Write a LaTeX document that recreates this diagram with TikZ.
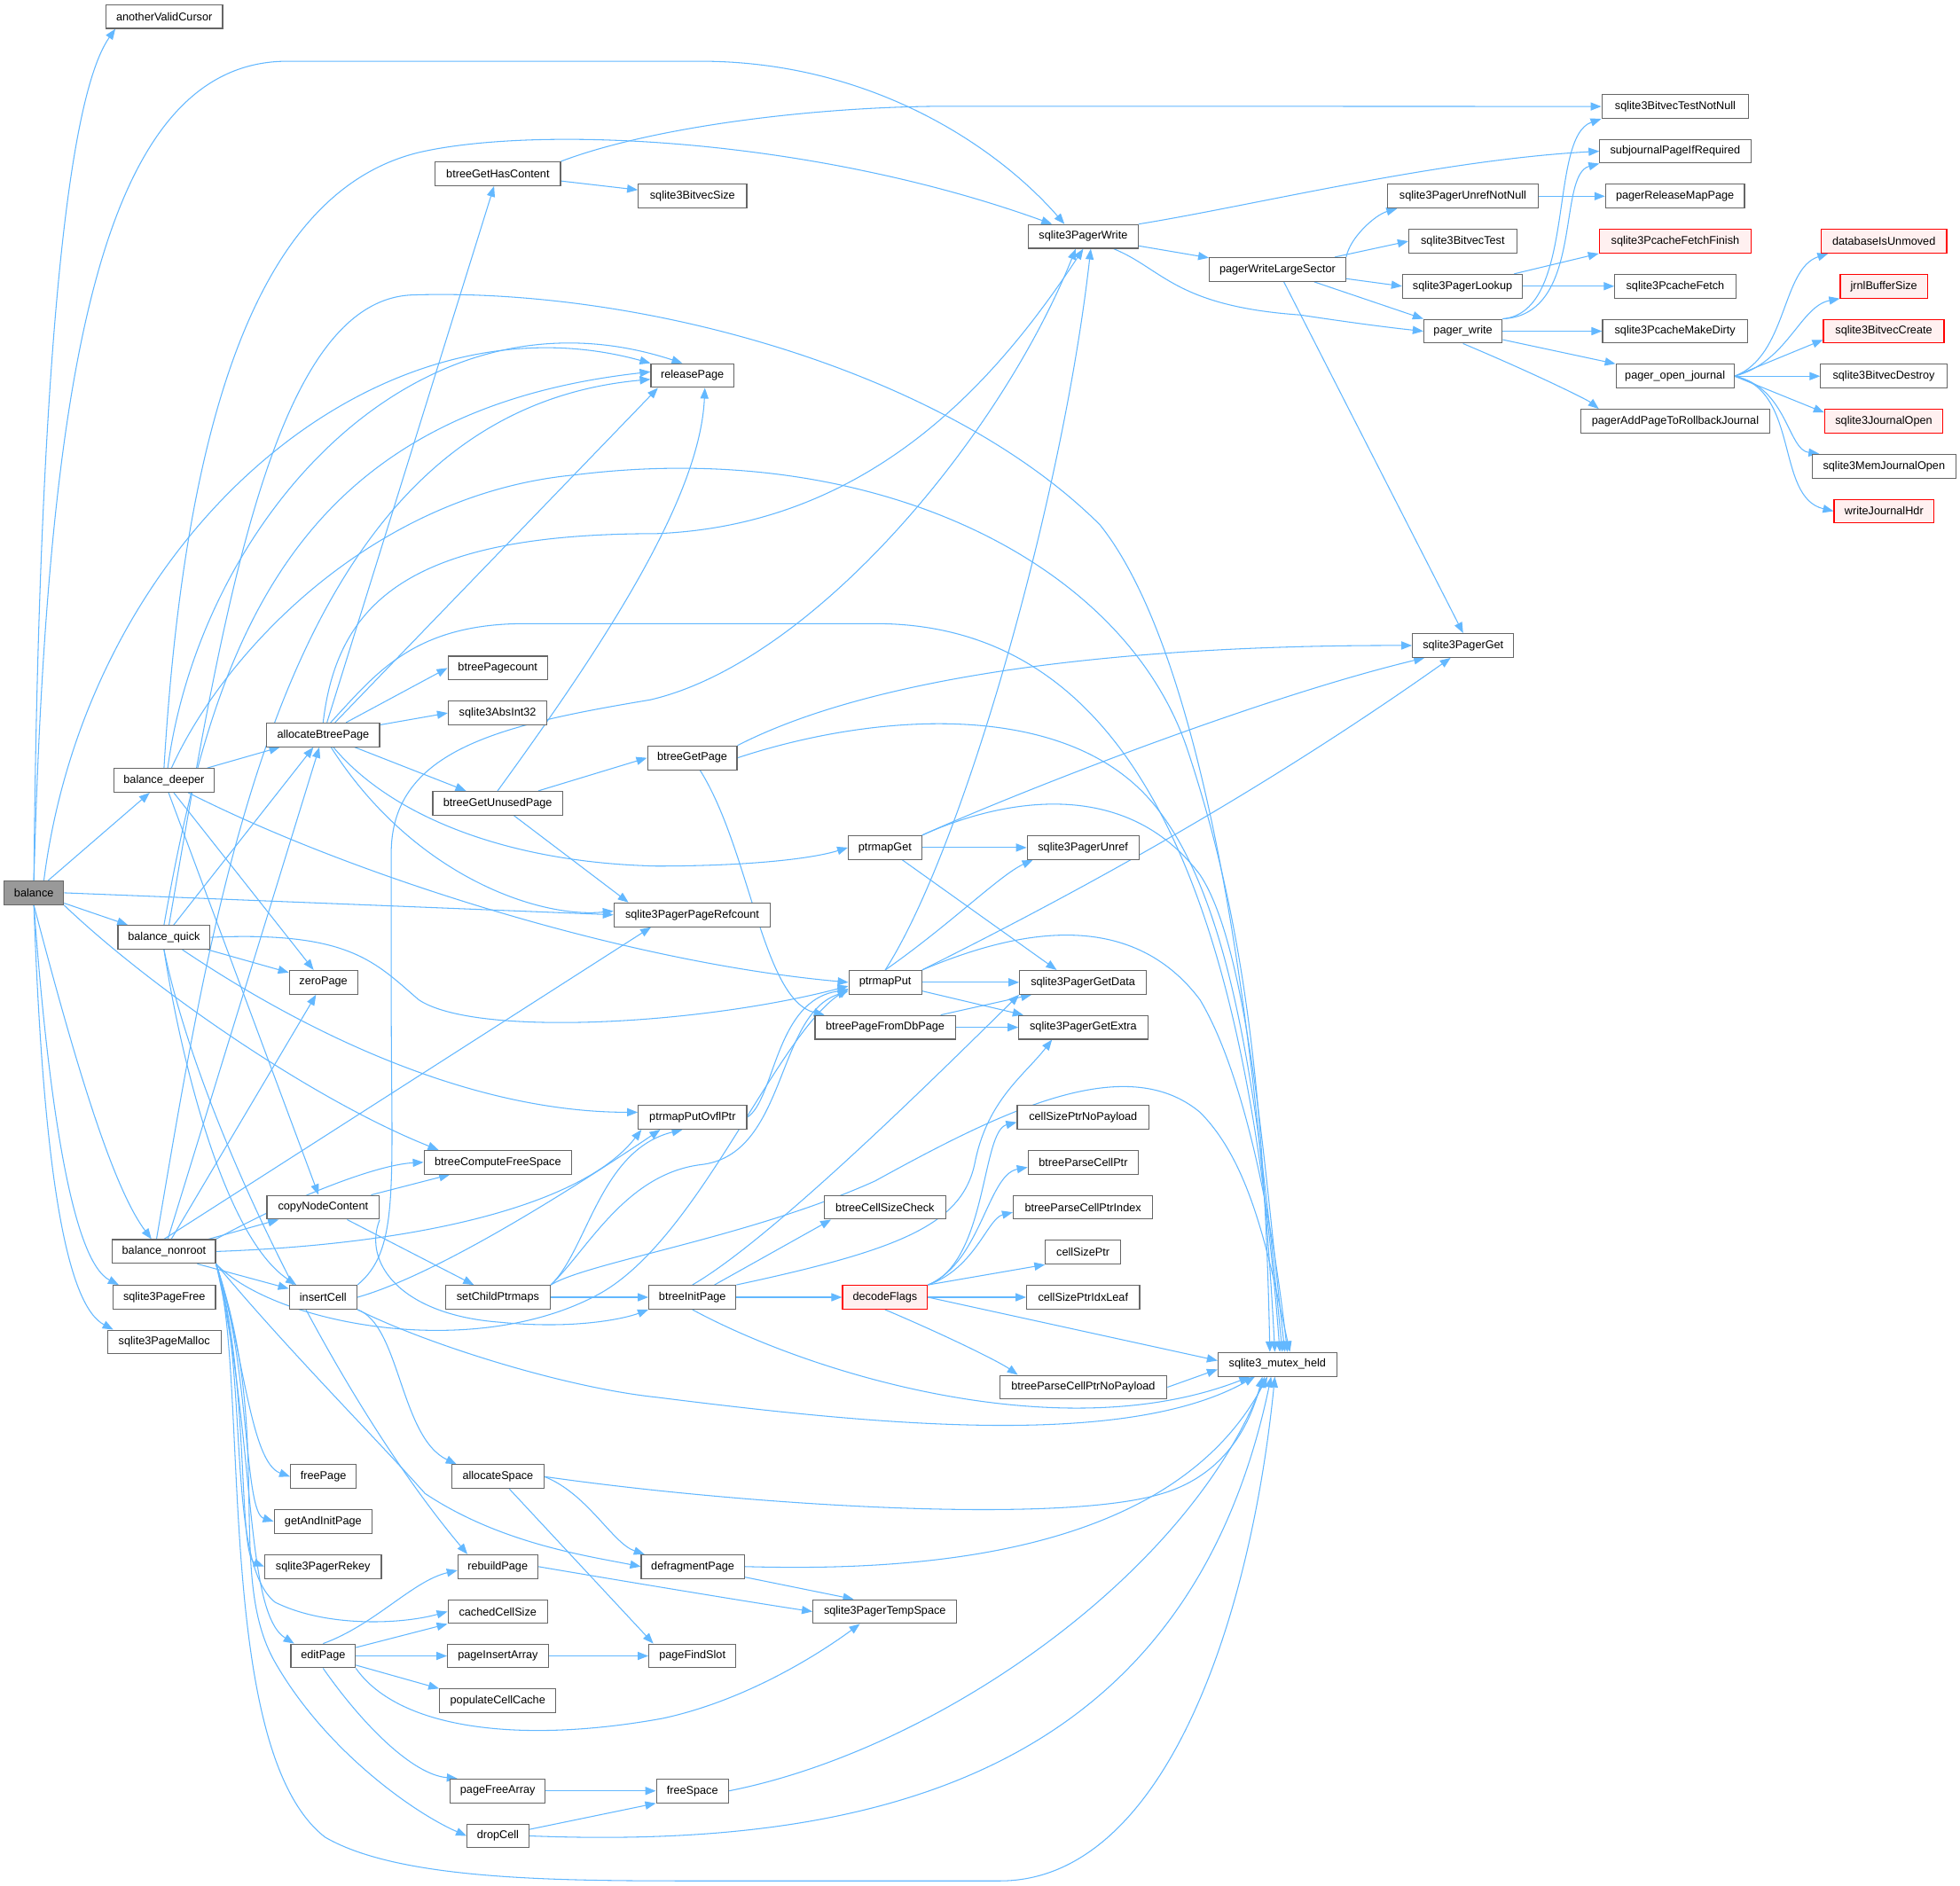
\documentclass[tikz,border=0pt]{standalone}
\usepackage{fontspec}
\setmainfont{Liberation Sans}
\usetikzlibrary{arrows.meta}
\pgfdeclarelayer{edgelayer}
\pgfsetlayers{edgelayer,main}
\definecolor{edgeblue}{HTML}{63B8FF}
\definecolor{boxgray}{HTML}{666666}
\definecolor{rootfill}{HTML}{999999}
\definecolor{truncfill}{HTML}{FFF0F0}
\definecolor{truncred}{HTML}{FF0000}
\tikzset{
 fn/.style={draw=boxgray, fill=white, line width=0.8pt, minimum height=19pt, inner sep=0pt, font=\fontsize{9}{10}\selectfont},
 trunc/.style={fn, draw=truncred, fill=truncfill},
 rootfn/.style={fn, fill=rootfill},
 call/.style={draw=edgeblue, line width=0.75pt, -{Triangle[length=8.5pt,width=6.5pt]}},
}
\begin{document}
\begin{tikzpicture}[x=1pt,y=1pt]
\useasboundingbox (0,0) rectangle (1568,-1509);
% column 1-2
\node[rootfn, minimum width=47.6pt] (B) at (27.1,-714.4) {balance};
\node[fn, minimum width=93.4pt] (aVC) at (131.4,-13.2) {anotherValidCursor};
\node[fn, minimum width=80.3pt] (bD) at (131.2,-624.4) {balance\_deeper};
\node[fn, minimum width=73.7pt] (bQ) at (131.2,-750) {balance\_quick};
\node[fn, minimum width=82.4pt] (bN) at (131.2,-1001.4) {balance\_nonroot};
\node[fn, minimum width=82pt] (sPF) at (131.4,-1038) {sqlite3PageFree};
\node[fn, minimum width=90.8pt] (sPM) at (131.4,-1073.8) {sqlite3PageMalloc};
% column 3
\node[fn, minimum width=90.4pt] (aBP) at (258.5,-588) {allocateBtreePage};
\node[fn, minimum width=54.6pt] (zP) at (258.7,-786) {zeroPage};
\node[fn, minimum width=89.8pt] (cNC) at (258.5,-966) {copyNodeContent};
\node[fn, minimum width=54.2pt] (iC) at (258.5,-1038) {insertCell};
\node[fn, minimum width=52.6pt] (fP) at (258.7,-1181.5) {freePage};
\node[fn, minimum width=78.4pt] (gAIP) at (258.5,-1217.4) {getAndInitPage};
\node[fn, minimum width=93.3pt] (sPRk) at (258.4,-1253.5) {sqlite3PagerRekey};
\node[fn, minimum width=51.6pt] (eP) at (258.5,-1325) {editPage};
% column 4
\node[fn, minimum width=100.2pt] (bGHC) at (398.3,-139) {btreeGetHasContent};
\node[fn, minimum width=79.7pt] (bPc) at (398.2,-534.5) {btreePagecount};
\node[fn, minimum width=79pt] (sAI) at (398.1,-570.5) {sqlite3AbsInt32};
\node[fn, minimum width=103.8pt] (bGUP) at (398.1,-642.7) {btreeGetUnusedPage};
\node[fn, minimum width=118.2pt] (bCFS) at (398.3,-930) {btreeComputeFreeSpace};
\node[fn, minimum width=84pt] (sCP) at (398.3,-1038) {setChildPtrmaps};
\node[fn, minimum width=73.4pt] (aS) at (398.3,-1181.5) {allocateSpace};
\node[fn, minimum width=63.7pt] (rbP) at (398.2,-1253.5) {rebuildPage};
\node[fn, minimum width=79.7pt] (cCS) at (398.2,-1289.5) {cachedCellSize};
\node[fn, minimum width=80.6pt] (pIA) at (398.3,-1325) {pageInsertArray};
\node[fn, minimum width=93.1pt] (pCC) at (398.2,-1361) {populateCellCache};
\node[fn, minimum width=75.7pt] (pFA) at (398.2,-1433) {pageFreeArray};
\node[fn, minimum width=49.3pt] (dC) at (398.3,-1469) {dropCell};
% column 5
\node[fn, minimum width=66.3pt] (RP) at (553.9,-300.5) {releasePage};
\node[fn, minimum width=86.8pt] (sBS) at (554,-157) {sqlite3BitvecSize};
\node[fn, minimum width=71.6pt] (bGP) at (553.8,-606.4) {btreeGetPage};
\node[fn, minimum width=125.2pt] (sPPR) at (553.8,-732) {sqlite3PagerPageRefcount};
\node[fn, minimum width=86.8pt] (pPO) at (554,-894) {ptrmapPutOvflPtr};
\node[fn, minimum width=69.7pt] (bIP) at (553.9,-1038) {btreeInitPage};
\node[fn, minimum width=82.4pt] (dP) at (554.2,-1253.5) {defragmentPage};
\node[fn, minimum width=69.7pt] (pFS) at (553.9,-1325) {pageFindSlot};
\node[fn, minimum width=57.6pt] (fS) at (553.9,-1433) {freeSpace};
% column 6
\node[fn, minimum width=58.6pt] (pG) at (708,-678.2) {ptrmapGet};
\node[fn, minimum width=58.3pt] (pP) at (708.2,-786) {ptrmapPut};
\node[fn, minimum width=112.2pt] (bPFDP) at (708.1,-822) {btreePageFromDbPage};
\node[fn, minimum width=97.5pt] (bCSC) at (708,-966) {btreeCellSizeCheck};
\node[trunc, minimum width=68pt] (dF) at (708,-1038) {decodeFlags};
\node[fn, minimum width=115.1pt] (sPTS) at (707.9,-1289.5) {sqlite3PagerTempSpace};
% column 7
\node[fn, minimum width=87.8pt] (PW) at (866.6,-189.2) {sqlite3PagerWrite};
\node[fn, minimum width=89.4pt] (sPU) at (866.4,-678.2) {sqlite3PagerUnref};
\node[fn, minimum width=101.4pt] (sPGD) at (866.4,-786) {sqlite3PagerGetData};
\node[fn, minimum width=103.1pt] (sPGE) at (866.6,-822) {sqlite3PagerGetExtra};
\node[fn, minimum width=105.5pt] (cSPNP) at (866.5,-894) {cellSizePtrNoPayload};
\node[fn, minimum width=88.3pt] (bPCP) at (866.6,-930) {btreeParseCellPtr};
\node[fn, minimum width=111.6pt] (bPCPI) at (866.4,-966) {btreeParseCellPtrIndex};
\node[fn, minimum width=60pt] (cSP) at (866.4,-1002) {cellSizePtr};
\node[fn, minimum width=90.4pt] (cSPIL) at (866.5,-1038) {cellSizePtrIdxLeaf};
\node[fn, minimum width=133.9pt] (bPCPNP) at (866.6,-1110) {btreeParseCellPtrNoPayload};
% column 8
\node[fn, minimum width=109.1pt] (pWLS) at (1022,-215.6) {pagerWriteLargeSector};
\node[fn, minimum width=94.9pt] (mx) at (1021.9,-1091.7) {sqlite3\_mutex\_held};
% column 9
\node[fn, minimum width=120.5pt] (sPUNN) at (1170.3,-157) {sqlite3PagerUnrefNotNull};
\node[fn, minimum width=86.4pt] (sBT) at (1170.2,-193) {sqlite3BitvecTest};
\node[fn, minimum width=96pt] (sPL) at (1170,-229) {sqlite3PagerLookup};
\node[fn, minimum width=62.7pt] (pW) at (1170.4,-265) {pager\_write};
\node[fn, minimum width=81pt] (sPG) at (1170.5,-516.5) {sqlite3PagerGet};
% column 10
\node[fn, minimum width=117.6pt] (sBTNN) at (1340.2,-85.2) {sqlite3BitvecTestNotNull};
\node[fn, minimum width=120.8pt] (sJPIR) at (1340.2,-121) {subjournalPageIfRequired};
\node[fn, minimum width=111.2pt] (pRMP) at (1340,-157) {pagerReleaseMapPage};
\node[trunc, minimum width=121.6pt] (sPFF) at (1340.2,-193) {sqlite3PcacheFetchFinish};
\node[fn, minimum width=96.7pt] (sPCF) at (1340.2,-229) {sqlite3PcacheFetch};
\node[fn, minimum width=115.9pt] (sPMD) at (1340,-265) {sqlite3PcacheMakeDirty};
\node[fn, minimum width=94.4pt] (pOJ) at (1340,-301) {pager\_open\_journal};
\node[fn, minimum width=151.6pt] (pAPRJ) at (1340.2,-337) {pagerAddPageToRollbackJournal};
% column 11
\node[trunc, minimum width=100.4pt] (dIU) at (1507.1,-193) {databaseIsUnmoved};
\node[trunc, minimum width=69.8pt] (jBS) at (1507.1,-229) {jrnlBufferSize};
\node[trunc, minimum width=96.5pt] (sBC) at (1507,-265) {sqlite3BitvecCreate};
\node[fn, minimum width=101.1pt] (sBD) at (1507,-301) {sqlite3BitvecDestroy};
\node[trunc, minimum width=94.5pt] (sJO) at (1507,-337) {sqlite3JournalOpen};
\node[fn, minimum width=114.9pt] (sMJO) at (1507.2,-373) {sqlite3MemJournalOpen};
\node[trunc, minimum width=79.9pt] (wJH) at (1507.2,-409) {writeJournalHdr};

\begin{pgfonlayer}{edgelayer}
\fill[white] (0,0) rectangle (1568,-1509);
% ---- balance
\draw[call] (B.north) .. controls (30,-400) and (45,-90) .. ([xshift=8pt]aVC.south west);
\draw[call] (B.north) .. controls (38,-300) and (80,-49) .. (230,-49) -- (560,-49) .. controls (700,-49) and (800,-120) .. ([xshift=-15pt]PW.north);
\draw[call] ([xshift=8pt]B.north) .. controls (70,-430) and (300,-230) .. (RP.north west);
\draw[call] (B) -- (bD);
\draw[call] (B.east) -- (sPPR.west);
\draw[call] (B) -- (bQ);
\draw[call] (B.south east) .. controls (120,-790) and (250,-880) .. ([xshift=12pt]bCFS.north west);
\draw[call] (B.south) .. controls (60,-850) and (90,-950) .. ([xshift=-10pt]bN.north);
\draw[call] (B.south) .. controls (40,-900) and (60,-1010) .. ([xshift=5pt]sPF.north west);
\draw[call] (B.south) .. controls (35,-950) and (55,-1045) .. ([xshift=5pt]sPM.north west);
% ---- balance_deeper
\draw[call] (bD.north) .. controls (150,-300) and (220,-150) .. (335,-122) .. controls (430,-100) and (650,-110) .. ([xshift=-25pt]PW.north);
\draw[call] ([xshift=3pt]bD.north) .. controls (160,-420) and (330,-220) .. ([xshift=-8pt]RP.north);
\draw[call] ([xshift=6pt]bD.north) .. controls (180,-520) and (300,-395) .. (460,-380) .. controls (700,-350) and (900,-450) .. (950,-600) .. controls (1000,-750) and (1012,-900) .. ([xshift=-6pt]mx.north);
\draw[call] (bD) -- (aBP);
\draw[call] (bD) -- (zP);
\draw[call] (bD) -- (cNC);
\draw[call] (bD) .. controls (280,-700) and (500,-770) .. (pP.west);
% ---- balance_quick
\draw[call] (bQ) -- (aBP);
\draw[call] (bQ) -- (zP);
\draw[call] (bQ.east) .. controls (280,-745) and (300,-770) .. (335,-800) .. controls (380,-830) and (560,-820) .. ([yshift=-3pt]pP.west);
\draw[call] (bQ) .. controls (250,-830) and (380,-890) .. ([yshift=4pt]pPO.west);
\draw[call] (bQ.south) .. controls (145,-850) and (180,-990) .. ([xshift=6pt]iC.north west);
\draw[call] (bQ.south) .. controls (160,-900) and (270,-1120) .. ([xshift=8pt]rbP.north west);
\draw[call] (bQ.north) .. controls (170,-520) and (230,-330) .. ([yshift=3pt]RP.west);
\draw[call] ([xshift=4pt]bQ.north) .. controls (180,-480) and (220,-240) .. (330,-236) .. controls (520,-230) and (760,-300) .. (880,-420) .. controls (960,-520) and (1005,-800) .. ([xshift=-2pt]mx.north);
% ---- balance_nonroot
\draw[call] (bN) -- (aBP);
\draw[call] (bN) -- (zP);
\draw[call] (bN) -- (cNC);
\draw[call] ([xshift=-15pt]bN.south east) -- ([yshift=-3pt]iC.north west);
\draw[call] (bN.north east) .. controls (230,-960) and (300,-932) .. (bCFS.west);
\draw[call] (bN.east) .. controls (350,-995) and (470,-960) .. ([xshift=3pt]pPO.south west);
\draw[call] (bN.north) -- ([xshift=30pt]sPPR.south west);
\draw[call] ([xshift=-6pt]bN.north) .. controls (175,-700) and (230,-330) .. ([yshift=-3pt]RP.west);
\draw[call] (bN.south east) .. controls (220,-1060) and (380,-1090) .. (480,-1035) .. controls (560,-990) and (620,-830) .. ([yshift=-5pt]pP.west);
\draw[call] (bN.south east) .. controls (230,-1080) and (300,-1150) .. (340,-1195) .. controls (400,-1235) and (470,-1245) .. (dP.west);
\draw[call] (bN.south east) .. controls (195,-1080) and (200,-1170) .. (fP.west);
\draw[call] (bN.south east) .. controls (200,-1090) and (195,-1210) .. (gAIP.west);
\draw[call] (bN.south east) .. controls (200,-1100) and (190,-1245) .. (sPRk.west);
\draw[call] (bN.south east) .. controls (200,-1100) and (180,-1250) .. (220,-1282) .. controls (260,-1302) and (320,-1300) .. (cCS.west);
\draw[call] (bN.south east) .. controls (205,-1150) and (195,-1290) .. ([xshift=3pt]eP.north west);
\draw[call] (bN.south east) .. controls (220,-1150) and (180,-1260) .. (220,-1330) .. controls (260,-1400) and (330,-1450) .. (dC.west);
\draw[call] (bN.south east) .. controls (200,-1100) and (170,-1400) .. (260,-1470) .. controls (320,-1505) and (450,-1505) .. (560,-1505) -- (800,-1505) .. controls (930,-1505) and (1000,-1300) .. ([xshift=-2pt]mx.south);
% ---- allocateBtreePage
\draw[call] (aBP) -- (bGHC);
\draw[call] (aBP.north) .. controls (270,-480) and (330,-427) .. (525,-427) .. controls (700,-420) and (800,-300) .. (PW.south);
\draw[call] (aBP) -- ([xshift=6pt]RP.south west);
\draw[call] (aBP) -- (bPc.west);
\draw[call] (aBP) -- (sAI.west);
\draw[call] (aBP) -- (bGUP);
\draw[call] (aBP) .. controls (330,-700) and (430,-735) .. ([yshift=3pt]sPPR.west);
\draw[call] (aBP) .. controls (310,-650) and (400,-690) .. (525,-693) .. controls (600,-693) and (650,-687) .. (pG.west);
\draw[call] ([xshift=6pt]aBP.north) .. controls (300,-540) and (330,-499) .. (420,-499) -- (700,-499) .. controls (900,-499) and (995,-700) .. ([xshift=2pt]mx.north);
% ---- btreeGetUnusedPage, btreeGetHasContent
\draw[call] (bGUP) -- (bGP.west);
\draw[call] (bGUP) -- ([xshift=12pt]sPPR.north west);
\draw[call] (bGUP.north) .. controls (480,-520) and (560,-400) .. ([xshift=10pt]RP.south);
\draw[call] (bGHC) -- (sBS);
\draw[call] (bGHC.north east) .. controls (520,-102) and (650,-85) .. (760,-85) -- (sBTNN.west);
% ---- sqlite3PagerWrite and pager internals
\draw[call] (PW.north east) .. controls (1000,-165) and (1150,-128) .. (sJPIR.west);
\draw[call] (PW) -- (pWLS);
\draw[call] (PW) .. controls (930,-215) and (940,-245) .. (1040,-252) .. controls (1080,-258) and (1110,-262) .. (pW.west);
\draw[call] (pWLS.north east) .. controls (1080,-190) and (1100,-172) .. ([xshift=8pt]sPUNN.south west);
\draw[call] (pWLS) -- (sBT.west);
\draw[call] (pWLS) -- (sPL.west);
\draw[call] (pWLS) -- (pW.north west);
\draw[call] (pWLS) -- (sPG.north);
\draw[call] (sPUNN) -- (pRMP);
\draw[call] (sPL) -- (sPFF.south west);
\draw[call] (sPL) -- (sPCF);
\draw[call] (pW.north east) .. controls (1262,-250) and (1238,-110) .. (sBTNN.south west);
\draw[call] (pW.north east) .. controls (1268,-252) and (1245,-140) .. (sJPIR.south west);
\draw[call] (pW) -- (sPMD);
\draw[call] (pW) -- (pOJ.north west);
\draw[call] (pW.south) .. controls (1230,-300) and (1270,-320) .. ([xshift=15pt]pAPRJ.north west);
\draw[call] (pOJ.east) .. controls (1430,-285) and (1425,-215) .. ([xshift=6pt]dIU.south west);
\draw[call] (pOJ.east) .. controls (1430,-290) and (1440,-245) .. (jBS.south west);
\draw[call] (pOJ.east) -- ([yshift=3pt]sBC.south west);
\draw[call] (pOJ) -- (sBD);
\draw[call] (pOJ.east) -- ([yshift=-3pt]sJO.north west);
\draw[call] (pOJ.east) .. controls (1430,-310) and (1430,-360) .. ([xshift=6pt]sMJO.north west);
\draw[call] (pOJ.east) .. controls (1440,-312) and (1420,-398) .. (wJH.west);
% ---- btreeGetPage, ptrmapGet, ptrmapPut
\draw[call] (bGP.north east) .. controls (700,-540) and (900,-516) .. (sPG.west);
\draw[call] (bGP) .. controls (600,-680) and (610,-800) .. ([xshift=8pt]bPFDP.north west);
\draw[call] (bGP.east) .. controls (700,-570) and (850,-560) .. (920,-640) .. controls (990,-720) and (1008,-900) .. ([xshift=4pt]mx.north);
\draw[call] (pG.north east) .. controls (800,-640) and (1000,-560) .. ([xshift=10pt]sPG.south west);
\draw[call] (pG) -- (sPU);
\draw[call] (pG) -- ([xshift=30pt]sPGD.north west);
\draw[call] (pG.north east) .. controls (800,-640) and (900,-620) .. (960,-700) .. controls (1000,-760) and (1013,-950) .. ([xshift=6pt]mx.north);
\draw[call] (pP.north) .. controls (770,-680) and (850,-400) .. ([xshift=6pt]PW.south);
\draw[call] (pP.north) .. controls (760,-740) and (800,-700) .. ([xshift=5pt]sPU.south west);
\draw[call] (pP.north east) .. controls (850,-720) and (1000,-640) .. ([xshift=-10pt]sPG.south);
\draw[call] (pP) -- (sPGD);
\draw[call] (pP) -- ([xshift=4pt]sPGE.north west);
\draw[call] (pP.north east) .. controls (800,-750) and (900,-720) .. (960,-800) .. controls (990,-850) and (1015,-950) .. ([xshift=8pt]mx.north);
\draw[call] (bPFDP) -- ([xshift=10pt]sPGD.south west);
\draw[call] (bPFDP) -- (sPGE);
\draw[call] (pPO.east) .. controls (620,-880) and (620,-800) .. ([yshift=-6pt]pP.west);
% ---- copyNodeContent, setChildPtrmaps, insertCell
\draw[call] (cNC) -- (bCFS);
\draw[call] (cNC) -- (sCP);
\draw[call] (cNC.south east) .. controls (290,-1010) and (320,-1052) .. (400,-1058) .. controls (460,-1064) and (500,-1055) .. (bIP.south west);
\draw[call] (sCP) -- (bIP);
\draw[call] (sCP.north east) .. controls (470,-1000) and (480,-920) .. ([xshift=-8pt]pPO.south);
\draw[call] (sCP.north east) .. controls (470,-1000) and (500,-940) .. (560,-932) .. controls (630,-925) and (620,-812) .. ([yshift=-7pt]pP.west);
\draw[call] (sCP.north east) .. controls (470,-1010) and (600,-990) .. (700,-945) .. controls (800,-890) and (900,-840) .. (960,-890) .. controls (1000,-930) and (1014,-1000) .. ([xshift=10pt]mx.north);
\draw[call] (iC.north east) .. controls (320,-1000) and (313,-950) .. (313,-800) -- (313,-680) .. controls (315,-600) and (400,-580) .. (520,-560) .. controls (650,-530) and (800,-350) .. ([xshift=-6pt]PW.south);
\draw[call] (iC.east) .. controls (350,-1020) and (460,-950) .. ([xshift=18pt]pPO.south west);
\draw[call] (iC.south east) .. controls (320,-1060) and (320,-1150) .. ([xshift=4pt]aS.north west);
\draw[call] (iC.south east) .. controls (340,-1075) and (450,-1110) .. (525,-1118) .. controls (700,-1140) and (900,-1160) .. ([xshift=-18pt]mx.south);
% ---- btreeInitPage, decodeFlags
\draw[call] (bIP) -- (dF);
\draw[call] (bIP) -- ([xshift=6pt]bCSC.south west);
\draw[call] (bIP.north) .. controls (620,-990) and (760,-850) .. (sPGD.south west);
\draw[call] (bIP.north east) .. controls (720,-1000) and (770,-980) .. (780,-930) .. controls (790,-880) and (820,-860) .. ([xshift=-25pt]sPGE.south);
\draw[call] (bIP.south) .. controls (650,-1100) and (850,-1160) .. ([xshift=-22pt]mx.south);
\draw[call] (dF.north east) .. controls (790,-1010) and (785,-905) .. ([yshift=-4pt]cSPNP.west);
\draw[call] (dF.north east) .. controls (785,-1010) and (790,-940) .. ([yshift=-4pt]bPCP.west);
\draw[call] (dF.north east) .. controls (780,-1015) and (790,-975) .. ([yshift=-4pt]bPCPI.west);
\draw[call] (dF.north east) -- (cSP.south west);
\draw[call] (dF) -- (cSPIL);
\draw[call] (dF.south) .. controls (760,-1070) and (800,-1090) .. ([xshift=15pt]bPCPNP.north west);
\draw[call] (dF.east) -- ([yshift=3pt]mx.west);
\draw[call] (bPCPNP.east) -- ([yshift=-4pt]mx.west);
% ---- allocateSpace, defragmentPage etc
\draw[call] (aS.east) .. controls (470,-1195) and (490,-1235) .. ([xshift=3pt]dP.north west);
\draw[call] (aS) -- ([xshift=4pt]pFS.north west);
\draw[call] (aS.east) .. controls (600,-1205) and (850,-1220) .. (930,-1195) .. controls (980,-1180) and (1000,-1140) .. ([xshift=-12pt]mx.south);
\draw[call] (dP) -- ([xshift=-25pt]sPTS.north);
\draw[call] (dP.east) .. controls (750,-1258) and (940,-1240) .. ([xshift=-8pt]mx.south);
\draw[call] (rbP.east) .. controls (480,-1262) and (600,-1282) .. (sPTS.west);
\draw[call] (eP.north) .. controls (300,-1300) and (330,-1265) .. ([yshift=-3pt]rbP.west);
\draw[call] (eP) -- (cCS.south west);
\draw[call] (eP) -- (pIA);
\draw[call] (eP) -- (pCC.north west);
\draw[call] (eP.south) .. controls (290,-1380) and (330,-1420) .. ([xshift=6pt]pFA.north west);
\draw[call] (eP.south east) .. controls (320,-1385) and (420,-1395) .. (530,-1375) .. controls (600,-1360) and (660,-1320) .. ([xshift=-20pt]sPTS.south);
\draw[call] (pIA) -- (pFS);
\draw[call] (pFA) -- (fS);
\draw[call] (dC) -- (fS.south west);
\draw[call] (dC.east) .. controls (700,-1480) and (950,-1420) .. ([xshift=-5pt]mx.south);
\draw[call] (fS.east) .. controls (750,-1400) and (950,-1260) .. ([xshift=-10pt]mx.south);
\end{pgfonlayer}
\end{tikzpicture}
\end{document}
